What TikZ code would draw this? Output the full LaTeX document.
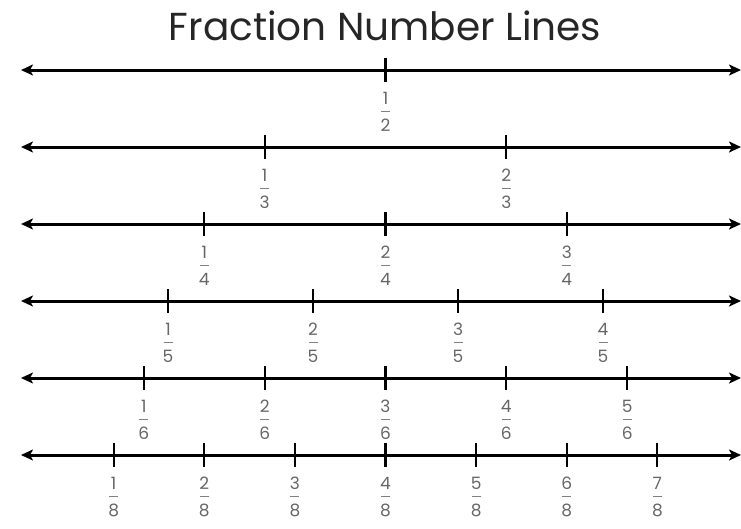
\documentclass[tikz,border=0pt]{standalone}
\usepackage{fontspec}
\setmainfont{Poppins}
\usetikzlibrary{arrows.meta}
\begin{document}
\begin{tikzpicture}[x=1pt,y=-1pt,
  numline/.style={line width=3pt,{Stealth[length=12pt,width=11pt,inset=3pt]}-{Stealth[length=12pt,width=11pt,inset=3pt]}},
  tickmark/.style={line width=2.2pt},
  fracbar/.style={line width=1.2pt,black!50},
  fracdigit/.style={text=black!60,font=\fontsize{17}{18}\selectfont,inner sep=0pt,anchor=center},
  titlestyle/.style={font=\fontsize{39}{44}\selectfont,text=black!85,inner sep=0pt}]
\useasboundingbox (0,0) rectangle (741,528);
\node[titlestyle] (title) at (385,26) {Fraction Number Lines};
\foreach \d/\y [count=\i] in {2/70,3/147,4/224,5/301,6/378,8/455} {
  \coordinate (L\i a) at (21,\y);
  \coordinate (L\i b) at (741,\y);
  \draw[numline] (L\i a) -- (L\i b);
  \pgfmathtruncatemacro\m{\d-1}
  \foreach \n in {1,...,\m} {
    \coordinate (T\i-\n) at ({23+725*\n/\d},\y);
    \draw[tickmark] ([yshift=12pt]T\i-\n) -- ([yshift=-12pt]T\i-\n);
    \node[fracdigit] (N\i-\n) at ([yshift=-28pt]T\i-\n) {\n};
    \node[fracdigit] (D\i-\n) at ([yshift=-55pt]T\i-\n) {\d};
    \draw[fracbar] ([xshift=-4.5pt,yshift=-41.5pt]T\i-\n) -- ([xshift=4.5pt,yshift=-41.5pt]T\i-\n);
  }
}
\end{tikzpicture}
\end{document}
